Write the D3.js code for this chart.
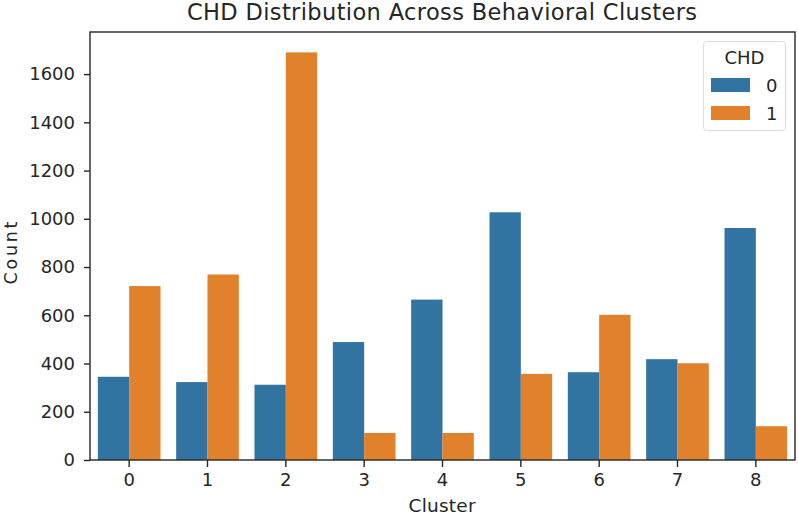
<!DOCTYPE html>
<html><head><meta charset="utf-8">
<script src="https://cdn.jsdelivr.net/npm/d3@7"></script>
<style>body{margin:0;background:#fff}svg{display:block;font-family:"DejaVu Sans",sans-serif}</style>
</head><body><svg id="c" width="798" height="516"></svg>
<script>
const clusters = ["0","1","2","3","4","5","6","7","8"];
const chd0 = [345, 323, 312, 489, 665, 1027, 364, 418, 962];
const chd1 = [721, 769, 1690, 112, 112, 357, 602, 401, 140];
const hueLevels = ["0","1"];
const colors = ["#3274a1","#e1812c"];
const yTicks = [0,200,400,600,800,1000,1200,1400,1600];

const svg = d3.select("#c");
const m = {l:90, r:795, t:32, b:460};
const x = d3.scaleBand().domain(clusters).range([m.l, m.r]).paddingInner(0.2).paddingOuter(0.1);
const xc = d3.scaleBand().domain(clusters).range([m.l, m.r]);
const hx = d3.scaleBand().domain(hueLevels).range([0, x.bandwidth()]);
const ymax = d3.max([...chd0, ...chd1]) * 1.05;
const y = d3.scaleLinear().domain([0, ymax]).range([m.b, m.t]);

const data = [];
clusters.forEach((c,i)=>{ data.push({c, h:"0", v:chd0[i]}); data.push({c, h:"1", v:chd1[i]}); });
const color = d3.scaleOrdinal().domain(hueLevels).range(colors);

svg.append("g").selectAll("rect").data(data).join("rect")
  .attr("x", d => x(d.c) + hx(d.h))
  .attr("width", hx.bandwidth())
  .attr("y", d => y(d.v))
  .attr("height", d => y(0) - y(d.v))
  .attr("fill", d => color(d.h));

const fs = 18;
const ya = svg.append("g").attr("transform", `translate(${m.l},0)`)
  .call(d3.axisLeft(y).tickValues(yTicks).tickSize(6).tickPadding(9).tickFormat(d3.format("d")));
const xa = svg.append("g").attr("transform", `translate(0,${m.b})`)
  .call(d3.axisBottom(xc).tickSize(7).tickPadding(6));
[ya, xa].forEach(a => {
  a.select(".domain").remove();
  a.selectAll("line").attr("stroke", "#262626").attr("stroke-width", 1.4);
  a.selectAll("text").attr("font-size", fs).attr("fill", "#262626").attr("font-family", "DejaVu Sans");
});
// frame
svg.append("rect").attr("x", m.l).attr("y", m.t).attr("width", m.r - m.l).attr("height", m.b - m.t)
  .attr("fill", "none").attr("stroke", "#262626").attr("stroke-width", 1.4);

svg.append("text").attr("x", 442).attr("y", 20).attr("text-anchor","middle")
  .attr("font-size", 22.5).attr("fill","#262626")
  .attr("textLength", 510).attr("lengthAdjust", "spacing")
  .text("CHD Distribution Across Behavioral Clusters");
svg.append("text").attr("x", 442).attr("y", 512).attr("text-anchor","middle")
  .attr("font-size", 18.5).attr("fill","#262626")
  .attr("textLength", 67).attr("lengthAdjust", "spacing").text("Cluster");
svg.append("text").attr("transform", `translate(17,253) rotate(-90)`).attr("text-anchor","middle")
  .attr("font-size", 17.5).attr("fill","#262626")
  .attr("textLength", 63).attr("lengthAdjust", "spacing").text("Count");

// legend
const lg = svg.append("g");
lg.append("rect").attr("x", 703.5).attr("y", 41.5).attr("width", 82).attr("height", 89).attr("rx", 3)
  .attr("fill", "#fff").attr("fill-opacity", 0.8).attr("stroke", "#dcdcdc");
lg.append("text").attr("x", 744.5).attr("y", 64).attr("text-anchor","middle").attr("font-size", fs).attr("fill","#262626").text("CHD");
hueLevels.forEach((h,i) => {
  lg.append("rect").attr("x", 711).attr("y", 78 + i*28).attr("width", 39).attr("height", 14).attr("fill", color(h));
  lg.append("text").attr("x", 766).attr("y", 92 + i*28).attr("font-size", fs).attr("fill","#262626").text(h);
});
</script></body></html>
